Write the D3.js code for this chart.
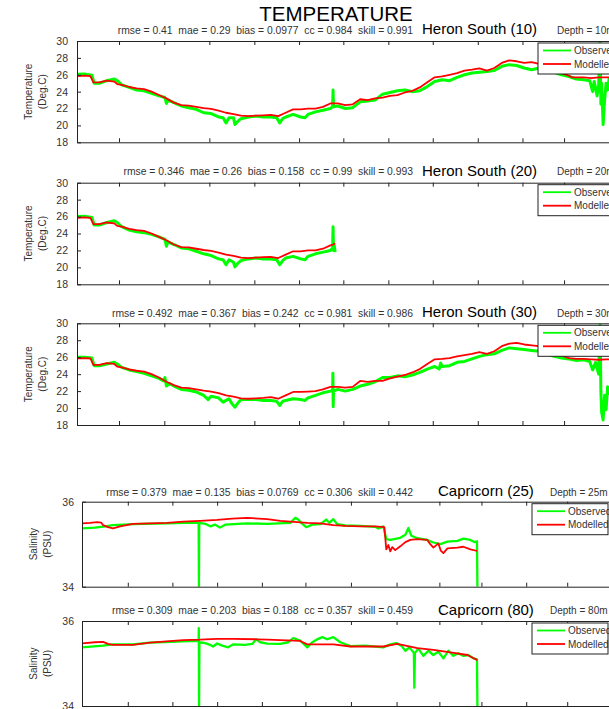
<!DOCTYPE html>
<html>
<head>
<meta charset="utf-8">
<script src="https://cdn.jsdelivr.net/npm/d3@7"></script>
<style>
  html, body { margin: 0; padding: 0; background: #fff; overflow: hidden; }
  svg { display: block; font-family: "Liberation Sans", Arial, Helvetica, sans-serif; }
  .pre { white-space: pre; }
</style>
</head>
<body>
<svg id="fig" width="609" height="709"></svg>
<script>
// ---- time axis: day offsets, month tick positions ----
const tempTicks = [28.2, 58.6, 88.8, 119, 149, 178.7, 208.9, 238.7, 268.9, 298.9, 326.8];
const salTicks  = [30.7, 60.6, 90.6, 120.6, 149.8, 180.3, 210.9, 239.6, 267.8, 297.8, 325.3];
const tempYTicks = [18, 20, 22, 24, 26, 28, 30];
const salYTicks = [34, 36];

// ---- Heron South, 10 m ----
const heron10Obs = [[0,26.05],[5,26.1],[10,25.95],[11.5,25.0],[15,25.0],[20,25.3],[25,25.5],[27,25.3],[30,24.8],[35,24.5],[40,24.2],[45,24.1],[50,23.8],[55,23.5],[59,23.3],[60,22.6],[61,23.0],[65,22.7],[70,22.3],[75,22.1],[80,21.9],[85,21.5],[90,21.4],[95,21.0],[98,20.9],[100,20.3],[102,20.9],[105,20.9],[106,20.1],[108,20.5],[110,20.8],[115,21.0],[120,21.1],[125,21.0],[130,21.0],[134,20.9],[136,20.3],[138,20.8],[140,21.0],[145,21.3],[150,21.0],[153,20.9],[155,21.3],[160,21.6],[165,21.8],[170,22.0],[171.5,22.2],[171.8,24.2],[172.1,22.2],[175,22.3],[180,22.0],[185,22.1],[190,22.8],[195,22.9],[200,23.0],[205,23.7],[210,23.9],[215,24.1],[220,24.2],[225,24.0],[230,24.1],[235,24.6],[240,25.2],[245,25.4],[250,25.3],[255,25.7],[260,26.0],[265,26.2],[270,26.3],[275,26.4],[280,26.5],[285,27.0],[290,27.2],[295,27.1],[300,26.8],[305,26.6],[310,26.8],[315,26.5],[320,26.3],[325,26.0],[330,25.8],[335,25.5],[340,25.4],[344,25.3],[346,24.0],[347,25.2],[349,23.5],[350,24.8],[351,29.8],[351.5,22.5],[352,25.0],[353,20.1],[354,23.0],[355,25.0],[356,24.2],[357,25.5],[358,25.3],[359,25.6],[360,25.5]];
const heron10Mod = [[0,25.85],[5,25.9],[9,25.85],[11,25.1],[15,25.1],[20,25.3],[25,25.2],[27,24.9],[30,24.8],[35,24.55],[40,24.4],[45,24.3],[50,24.0],[55,23.6],[60,23.2],[65,22.7],[70,22.4],[75,22.35],[80,22.2],[85,22.05],[90,21.95],[95,21.75],[100,21.5],[105,21.35],[110,21.15],[115,21.1],[120,21.15],[125,21.2],[130,21.25],[135,21.1],[140,21.5],[145,21.9],[150,21.9],[155,22.0],[160,22.0],[165,22.2],[170,22.6],[175,22.6],[180,22.4],[185,22.5],[190,23.1],[195,23.0],[200,23.2],[205,23.3],[210,23.5],[215,23.6],[220,23.9],[225,24.1],[230,24.5],[235,25.1],[240,25.7],[245,25.8],[250,26.0],[255,26.2],[260,26.5],[265,26.6],[270,26.75],[275,26.5],[280,26.8],[285,27.4],[290,27.7],[295,27.6],[300,27.4],[305,27.5],[310,27.3],[315,27.0],[320,26.6],[325,26.2],[330,25.9],[332,25.7],[335,25.7],[340,25.7],[345,25.6],[350,25.7],[355,25.7],[360,25.7],[370,25.7]];

// ---- Heron South, 20 m ----
const heron20Obs = [[0,26.0],[5,26.05],[10,25.9],[11.5,25.0],[15,25.0],[20,25.3],[25,25.5],[27,25.3],[30,24.8],[35,24.4],[40,24.2],[45,24.1],[50,23.9],[55,23.6],[59,23.3],[60,22.5],[61,23.0],[65,22.7],[70,22.3],[75,22.2],[80,21.9],[85,21.6],[90,21.4],[95,21.0],[98,20.9],[100,20.3],[102,20.9],[105,20.6],[106,20.05],[108,20.5],[110,20.8],[115,21.0],[120,21.1],[125,21.0],[130,21.0],[134,20.9],[136,20.3],[138,20.8],[140,21.1],[145,21.3],[150,21.0],[153,20.9],[155,21.3],[160,21.6],[165,21.8],[170,22.0],[171.5,22.3],[171.8,24.8],[172.1,22.0],[172.6,22.6],[173.2,21.8]];
const heron20Mod = [[0,25.85],[5,25.9],[9,25.85],[11,25.1],[15,25.1],[20,25.3],[25,25.2],[27,24.9],[30,24.8],[35,24.55],[40,24.4],[45,24.3],[50,24.0],[55,23.6],[60,23.2],[65,22.7],[70,22.4],[75,22.35],[80,22.2],[85,22.05],[90,21.95],[95,21.75],[100,21.5],[105,21.35],[110,21.15],[115,21.1],[120,21.15],[125,21.2],[130,21.25],[135,21.1],[140,21.5],[145,21.9],[150,21.9],[155,22.0],[160,22.0],[165,22.2],[170,22.6],[172,22.7],[173.2,22.85]];

// ---- Heron South, 30 m ----
const heron30Obs = [[0,26.0],[5,26.0],[10,25.9],[11.5,25.0],[15,25.0],[20,25.2],[25,25.4],[27,25.2],[30,24.8],[35,24.5],[40,24.3],[45,24.1],[50,23.8],[55,23.5],[58,23.2],[59,23.6],[60,22.6],[62,22.9],[65,22.6],[70,22.2],[75,22.1],[80,21.9],[85,21.5],[88,21.0],[90,21.4],[95,21.2],[98,20.7],[100,20.9],[102,21.1],[104,20.5],[106,20.1],[108,20.6],[110,21.0],[115,21.0],[120,21.0],[125,20.9],[130,20.9],[134,20.8],[136,20.3],[138,20.8],[140,20.9],[145,21.1],[150,21.0],[153,20.9],[155,21.2],[160,21.5],[165,21.8],[170,22.0],[171.5,22.1],[171.7,24.1],[171.9,20.15],[172.1,22.0],[175,22.2],[180,22.0],[185,22.2],[190,22.6],[195,22.8],[200,23.1],[205,23.6],[210,23.6],[215,23.8],[220,23.7],[225,23.9],[230,24.2],[235,24.6],[240,24.9],[243,24.6],[244,25.3],[245,24.9],[250,25.0],[255,25.4],[260,25.5],[265,25.8],[270,26.1],[275,26.3],[280,26.4],[285,26.8],[290,27.1],[295,27.0],[300,26.9],[305,26.8],[310,26.7],[315,26.4],[320,26.1],[325,25.9],[330,25.8],[335,25.6],[340,25.7],[344,25.5],[346,24.5],[348,25.4],[350,24.0],[351,29.8],[351.5,22.0],[352,19.5],[353,18.6],[354,21.5],[355,19.8],[356,22.5],[358,21.5],[360,22.0]];
const heron30Mod = [[0,25.85],[5,25.9],[9,25.85],[11,25.1],[15,25.1],[20,25.3],[25,25.2],[27,24.9],[30,24.8],[35,24.55],[40,24.4],[45,24.3],[50,24.0],[55,23.6],[60,23.1],[65,22.7],[70,22.4],[75,22.35],[80,22.2],[85,22.05],[90,21.95],[95,21.75],[100,21.5],[105,21.35],[110,21.15],[115,21.1],[120,21.15],[125,21.2],[130,21.3],[135,21.1],[140,21.5],[145,21.9],[150,21.9],[155,21.95],[160,22.0],[165,22.2],[170,22.5],[175,22.5],[180,22.4],[185,22.5],[190,23.2],[195,23.1],[200,23.2],[205,23.2],[210,23.5],[215,23.7],[220,23.9],[225,24.2],[230,24.6],[235,25.2],[240,25.75],[245,25.8],[250,25.9],[255,26.1],[260,26.25],[265,26.4],[270,26.6],[275,26.4],[280,26.7],[285,27.3],[290,27.6],[295,27.7],[300,27.5],[305,27.4],[310,27.3],[315,27.0],[320,26.6],[325,26.2],[330,25.9],[335,25.8],[340,25.8],[345,25.75],[350,25.7],[355,25.75],[360,25.75],[370,25.7]];

// ---- Capricorn, 25 m (salinity) ----
const cap25Obs = [[0,35.37],[8.7,35.39],[15.4,35.42],[20.8,35.45],[34.2,35.47],[57,35.49],[67.8,35.5],[78.2,35.5],[78.4,34.0],[78.6,35.5],[82.6,35.48],[85.9,35.42],[89.3,35.46],[92.6,35.39],[96,35.46],[110.7,35.49],[124.2,35.48],[139.6,35.5],[143,35.62],[145,35.58],[147,35.5],[150.3,35.4],[154.4,35.46],[159.7,35.47],[163.8,35.58],[165.8,35.5],[168.5,35.59],[171.1,35.47],[176.5,35.44],[186.6,35.43],[196.6,35.41],[198.7,35.37],[202,35.42],[204,35.12],[206.7,35.1],[213.4,35.15],[216.8,35.22],[218.8,35.38],[220.8,35.2],[224.8,35.14],[231.5,35.1],[235.6,35.04],[240.3,35.0],[245,35.06],[251.7,35.08],[255.7,35.13],[260.4,35.1],[263.1,35.05],[264.8,35.07],[265.1,34.0]];
const cap25Mod = [[0,35.49],[5.4,35.5],[10.1,35.52],[12.8,35.51],[14.1,35.45],[17.4,35.4],[20.8,35.37],[25.5,35.42],[34.2,35.48],[45.6,35.49],[57,35.5],[67.8,35.53],[79.2,35.55],[90.6,35.57],[100.7,35.6],[110.7,35.62],[124.2,35.59],[132.9,35.55],[144.3,35.52],[151,35.5],[159.7,35.49],[168.5,35.45],[176.5,35.43],[186.6,35.42],[196.6,35.42],[202.7,35.4],[204,34.88],[205.4,34.98],[206.7,34.83],[208,34.93],[210,34.86],[213.4,34.95],[216.8,35.05],[220.1,35.1],[224.8,35.12],[231.5,35.1],[233.5,35.0],[235.6,34.92],[238.9,35.02],[240.5,34.85],[242.3,34.79],[245,34.9],[251.7,34.92],[255.7,34.94],[260.4,34.88],[265.1,34.84]];

// ---- Capricorn, 80 m (salinity) ----
const cap80Obs = [[0,35.38],[14.1,35.42],[20.8,35.45],[34.2,35.45],[45.6,35.49],[67.8,35.52],[78.2,35.53],[78.3,35.83],[78.5,34.0],[78.7,35.5],[82.6,35.48],[85.9,35.44],[87.9,35.4],[90.6,35.47],[94,35.42],[98,35.38],[101.3,35.45],[109.4,35.44],[114.1,35.46],[116.8,35.57],[119.5,35.5],[124.2,35.47],[132.9,35.46],[138.3,35.5],[141.6,35.6],[146.3,35.54],[149,35.45],[151,35.38],[154.4,35.5],[158.4,35.58],[161.1,35.62],[164.4,35.57],[168.5,35.62],[173.2,35.5],[179.9,35.41],[190,35.42],[202,35.38],[206.7,35.45],[210.7,35.48],[214.1,35.42],[216.8,35.3],[219.5,35.38],[222.5,35.25],[222.8,34.43],[223.2,35.25],[225.5,35.35],[228.9,35.18],[232.2,35.3],[235.6,35.2],[238.9,35.28],[242.3,35.12],[245.6,35.3],[249,35.18],[252.3,35.24],[255.7,35.18],[259.1,35.2],[262.4,35.12],[264.8,35.1],[265.1,34.0]];
const cap80Mod = [[0,35.475],[8.7,35.5],[14.1,35.51],[17.4,35.46],[20.8,35.44],[34.2,35.44],[45.6,35.49],[67.8,35.55],[79.2,35.56],[90.6,35.58],[101.3,35.58],[117.4,35.57],[124.2,35.56],[141.6,35.54],[146.3,35.53],[151,35.45],[159.7,35.45],[168.5,35.45],[179.9,35.4],[202,35.4],[211.4,35.46],[215.4,35.43],[224.8,35.36],[235.6,35.32],[247,35.26],[258.4,35.2],[265.1,35.08]];

// ---- panel texts ----
const statsText = [
  "rmse = 0.41  mae = 0.29  bias = 0.0977  cc = 0.984  skill = 0.991",
  "rmse = 0.346  mae = 0.26  bias = 0.158  cc = 0.99  skill = 0.993",
  "rmse = 0.492  mae = 0.367  bias = 0.242  cc = 0.981  skill = 0.986",
  "rmse = 0.379  mae = 0.135  bias = 0.0769  cc = 0.306  skill = 0.442",
  "rmse = 0.309  mae = 0.203  bias = 0.188  cc = 0.357  skill = 0.459"
];
const siteNames = ["Heron South (10)", "Heron South (20)", "Heron South (30)", "Capricorn (25)", "Capricorn (80)"];
const depthText = ["Depth = 10m", "Depth = 20m", "Depth = 30m", "Depth = 25m", "Depth = 80m"];
const legendLabels = ["Observed", "Modelled"];

// ---- layout ----
const tempBox = { left: 77, right: 621, xDomain: [0, 365], yDomain: [18, 30], xTicks: tempTicks, yTicks: tempYTicks, obsWidth: 3,
  yLabel: ["Temperature", "(Deg.C)"], labX: [32, 46], tickPad: 9, nameX: 422, depthX: 557, legX: 538, legW: 78, legLineX: 543, legTextX: 574 };
const salBox = { left: 82, right: 613, xDomain: [0, 356], yDomain: [34, 36], xTicks: salTicks, yTicks: salYTicks, obsWidth: 2.3,
  yLabel: ["Salinity", "(PSU)"], labX: [36.5, 51], tickPad: 8, nameX: 438, depthX: 550, legX: 532, legW: 76, legLineX: 537, legTextX: 568 };

const panels = [
  Object.assign({}, tempBox, { top: 41,    bottom: 142.3, textY: 33.5,  obs: heron10Obs, mod: heron10Mod }),
  Object.assign({}, tempBox, { top: 182.7, bottom: 284.3, textY: 175,   obs: heron20Obs, mod: heron20Mod }),
  Object.assign({}, tempBox, { top: 323.3, bottom: 425,   textY: 316.7, obs: heron30Obs, mod: heron30Mod }),
  Object.assign({}, salBox,  { top: 501.7, bottom: 586.7, textY: 495.7, obs: cap25Obs,   mod: cap25Mod }),
  Object.assign({}, salBox,  { top: 621,   bottom: 706,   textY: 614.3, obs: cap80Obs,   mod: cap80Mod })
];

const GREEN = "#00ff00", RED = "#ff0000", AXIS = "#222", TXT = "#333";

const svg = d3.select("#fig");
svg.append("rect").attr("width", 609).attr("height", 709).attr("fill", "#fff");
const defs = svg.append("defs");

svg.append("text")
  .attr("x", 336).attr("y", 20.5)
  .attr("text-anchor", "middle")
  .attr("font-size", 20.5).attr("fill", "#000")
  .text("TEMPERATURE");

panels.forEach((p, i) => {
  const x = d3.scaleLinear().domain(p.xDomain).range([p.left, p.right]);
  const y = d3.scaleLinear().domain(p.yDomain).range([p.bottom, p.top]);
  const g = svg.append("g");

  const cid = "plotclip" + i;
  defs.append("clipPath").attr("id", cid).append("rect")
    .attr("x", p.left).attr("y", p.top)
    .attr("width", p.right - p.left).attr("height", p.bottom - p.top);

  const line = d3.line().x(d => x(d[0])).y(d => y(d[1]));
  const plot = g.append("g").attr("clip-path", `url(#${cid})`);
  plot.append("path").datum(p.obs).attr("d", line)
    .attr("fill", "none").attr("stroke", GREEN).attr("stroke-width", p.obsWidth)
    .attr("stroke-linejoin", "round");
  plot.append("path").datum(p.mod).attr("d", line)
    .attr("fill", "none").attr("stroke", RED).attr("stroke-width", 1.8)
    .attr("stroke-linejoin", "round");

  // axes: inward ticks on all sides, no date labels
  const styleAxis = sel => {
    sel.selectAll("path.domain").attr("stroke", AXIS).attr("stroke-width", 1);
    sel.selectAll(".tick line").attr("stroke", AXIS);
  };
  g.append("g").attr("transform", `translate(0,${p.bottom})`)
    .call(d3.axisBottom(x).tickValues(p.xTicks).tickSizeInner(-4).tickSizeOuter(0).tickFormat(""))
    .call(styleAxis);
  g.append("g").attr("transform", `translate(0,${p.top})`)
    .call(d3.axisTop(x).tickValues(p.xTicks).tickSizeInner(-4).tickSizeOuter(0).tickFormat(""))
    .call(styleAxis);
  g.append("g").attr("transform", `translate(${p.right},0)`)
    .call(d3.axisRight(y).tickValues(p.yTicks).tickSizeInner(-4).tickSizeOuter(0).tickFormat(""))
    .call(styleAxis);
  const yAxis = g.append("g").attr("transform", `translate(${p.left},0)`)
    .call(d3.axisLeft(y).tickValues(p.yTicks).tickSizeInner(-4).tickSizeOuter(0)
      .tickPadding(p.tickPad).tickFormat(d3.format("d")))
    .call(styleAxis);
  yAxis.selectAll("text")
    .attr("font-family", "Liberation Sans, Arial, sans-serif")
    .attr("font-size", 10.5).attr("fill", TXT);

  // y axis label (two lines)
  const cy = (p.top + p.bottom) / 2;
  p.yLabel.forEach((t, k) => {
    svg.append("text")
      .attr("transform", `translate(${p.labX[k]},${cy}) rotate(-90)`)
      .attr("text-anchor", "middle")
      .attr("font-size", 10).attr("fill", TXT)
      .text(t);
  });

  // header line: statistics, site, depth
  svg.append("text").attr("class", "pre")
    .attr("x", 413).attr("y", p.textY)
    .attr("text-anchor", "end")
    .attr("font-size", 10.35).attr("fill", TXT)
    .text(statsText[i]);
  svg.append("text")
    .attr("x", p.nameX).attr("y", p.textY + 0.5)
    .attr("font-size", 15).attr("fill", "#000")
    .text(siteNames[i]);
  svg.append("text")
    .attr("x", p.depthX).attr("y", p.textY)
    .attr("font-size", 10).attr("fill", TXT)
    .text(depthText[i]);

  // legend
  const lg = svg.append("g");
  const lTop = p.top + 2, lH = 31;
  lg.append("rect")
    .attr("x", p.legX).attr("y", lTop)
    .attr("width", p.legW).attr("height", lH)
    .attr("fill", "#fff").attr("stroke", AXIS).attr("stroke-width", 1);
  [[GREEN, 7.5], [RED, 21]].forEach(([c, dy], k) => {
    lg.append("line")
      .attr("x1", p.legLineX).attr("x2", p.legLineX + 28)
      .attr("y1", lTop + dy).attr("y2", lTop + dy)
      .attr("stroke", c).attr("stroke-width", 1.8);
    lg.append("text")
      .attr("x", p.legTextX).attr("y", lTop + dy + 3.5)
      .attr("font-size", 10).attr("fill", TXT)
      .text(legendLabels[k]);
  });
});
</script>
</body>
</html>
